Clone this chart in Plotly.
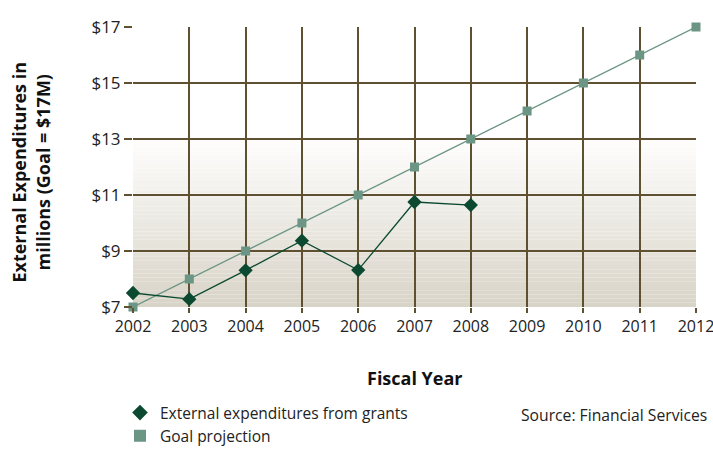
import plotly.graph_objects as go

years = list(range(2002, 2013))
grant_years = [2002, 2003, 2004, 2005, 2006, 2007, 2008]
grant_values = [7.5, 7.28, 8.31, 9.37, 8.32, 10.75, 10.64]
goal_values = [7, 8, 9, 10, 11, 12, 13, 14, 15, 16, 17]
y_ticks = [7, 9, 11, 13, 15, 17]
y_tick_labels = ["$7", "$9", "$11", "$13", "$15", "$17"]

GRANT_COLOR = "#0b4a30"
GOAL_COLOR = "#6b9584"
GRID = "#5e5030"
FONT = "Open Sans"
TXT = "#222222"

fig = go.Figure()

# gradient background (style only)
shapes = []
top_c = (254, 254, 253)
bot_c = (216, 211, 199)
n = 40
lo, hi = 7.0, 13.0
for i in range(n):
    y0 = lo + (hi - lo) * i / n
    y1 = lo + (hi - lo) * (i + 1) / n
    t = 1 - (i + 0.5) / n
    c = tuple(round(top_c[k] + (bot_c[k] - top_c[k]) * t) for k in range(3))
    shapes.append(dict(type="rect", xref="x", yref="y", x0=2002, x1=2012, y0=y0, y1=y1,
                       fillcolor="rgb(%d,%d,%d)" % c, line=dict(width=0), layer="below"))

fig.add_trace(go.Scatter(x=years, y=goal_values, mode="lines+markers",
                         line=dict(color=GOAL_COLOR, width=1.3),
                         marker=dict(symbol="square", size=9, color=GOAL_COLOR),
                         showlegend=False, cliponaxis=False))
fig.add_trace(go.Scatter(x=grant_years, y=grant_values, mode="lines+markers",
                         line=dict(color=GRANT_COLOR, width=1.3),
                         marker=dict(symbol="diamond", size=11, color=GRANT_COLOR),
                         showlegend=False, cliponaxis=False))
# legend entries (markers only)
fig.add_trace(go.Scatter(x=[None], y=[None], mode="markers", name="External expenditures from grants",
                         marker=dict(symbol="diamond", size=10, color=GRANT_COLOR)))
fig.add_trace(go.Scatter(x=[None], y=[None], mode="markers", name="Goal projection",
                         marker=dict(symbol="square", size=9, color=GOAL_COLOR)))

fig.update_layout(
    width=713, height=453,
    margin=dict(l=133, r=17, t=27, b=146, autoexpand=False),
    paper_bgcolor="white", plot_bgcolor="white",
    font=dict(family=FONT, size=16, color=TXT),
    shapes=shapes,
    showlegend=True,
    legend=dict(x=-0.0231, xanchor="left", y=-0.318, yanchor="top",
                font=dict(family=FONT, size=15.5, color=TXT),
                tracegroupgap=0, itemsizing="constant", bgcolor="rgba(0,0,0,0)"),
    annotations=[
        dict(text="Source: Financial Services", xref="paper", yref="paper",
             x=1.0231, y=-0.3857, xanchor="right", yanchor="middle", showarrow=False,
             font=dict(family=FONT, size=15.7, color=TXT)),
        dict(text="<b>Fiscal Year</b>", xref="paper", yref="paper", x=0.5, y=-0.254,
             xanchor="center", yanchor="middle", showarrow=False,
             font=dict(family=FONT, size=18, color="#111111")),
        dict(text="<b>External Expenditures in<br>millions (Goal = $17M)</b>", xref="paper", yref="paper",
             x=-0.182, y=0.482, xanchor="center", yanchor="middle", showarrow=False, textangle=-90,
             font=dict(family=FONT, size=18, color="#111111")),
    ],
)

fig.update_xaxes(range=[2002, 2012], tickvals=years, ticktext=[str(y) for y in years],
                 showgrid=True, gridcolor=GRID, gridwidth=1.7, zeroline=False,
                 ticks="outside", ticklen=5, tickcolor=GRID, tickwidth=1.7,
                 showline=False, tickfont=dict(size=16), automargin=False,
                 ticklabeloverflow="allow")
fig.update_yaxes(range=[7, 17], tickvals=y_ticks, ticktext=y_tick_labels,
                 showgrid=True, gridcolor=GRID, gridwidth=1.7, zeroline=False,
                 ticks="outside", ticklen=8, tickcolor=GRID, tickwidth=1.7,
                 showline=False, tickfont=dict(size=17), automargin=False,
                 ticklabeloverflow="allow")

fig.write_html("out.html", config={"displayModeBar": False},
               post_script="document.body.style.margin='0';")
